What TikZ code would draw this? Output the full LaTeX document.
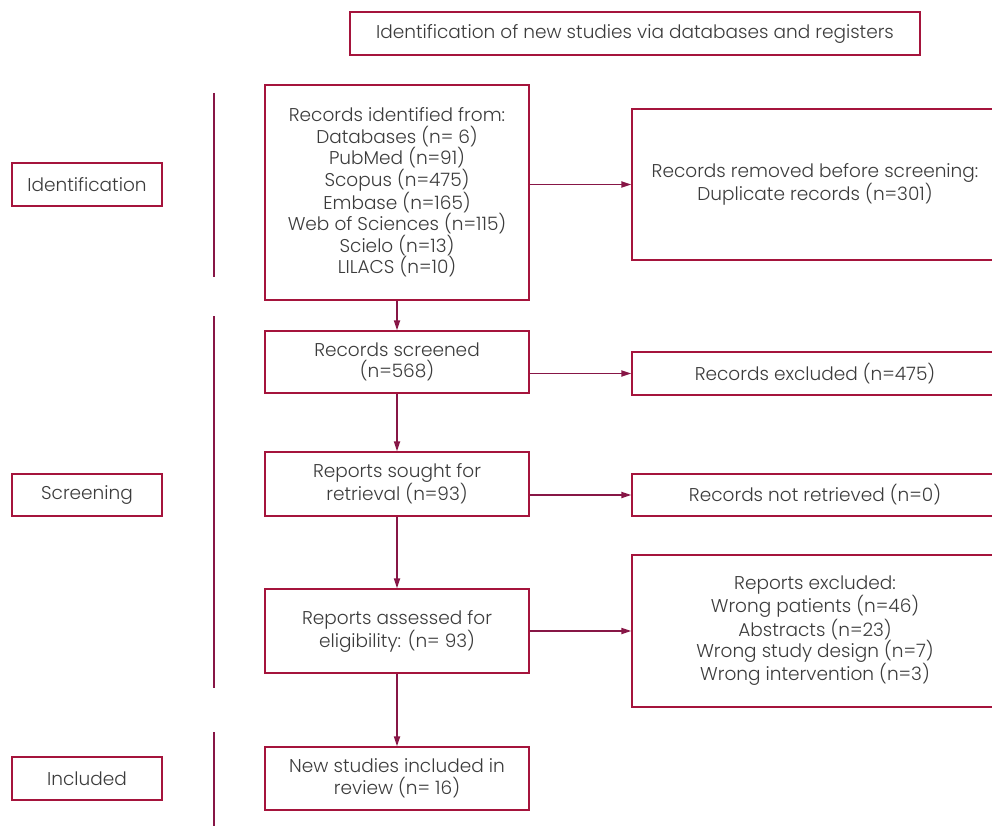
\documentclass[tikz,border=0pt]{standalone}
\usepackage{fontspec}
\setmainfont{Poppins}[UprightFont=* Light]
\usetikzlibrary{arrows.meta}
\definecolor{prred}{RGB}{165,20,60}
\definecolor{prwine}{RGB}{135,22,70}
\definecolor{prtext}{RGB}{60,60,60}
\tikzset{
  prbox/.style={draw=prred, rectangle, line width=1.2pt, fill=white, text=prtext, align=center,
    font=\fontsize{18.5}{21.5}\selectfont, inner sep=0pt},
  prstage/.style={prbox, minimum width=150pt, minimum height=43pt},
  prwire/.style={draw=prwine, line width=1.8pt, -{Triangle[length=10pt,width=6pt]}},
  prbar/.style={draw=prwine, line width=2.5pt}
}
\begin{document}
\begin{tikzpicture}[x=1pt,y=-1pt]
    \useasboundingbox (0,0) rectangle (992,826);
    \clip (0,0) rectangle (992,826);
    \node[prbox, minimum width=570pt, minimum height=43pt] (title) at (635,33.5) {Identification of new studies via databases and registers};

    \node[prstage] (ident) at (87,184.5) {Identification};
    \node[prstage, minimum height=42pt] (screen) at (87,495) {Screening};
    \node[prstage] (incl) at (87,778.5) {Included};

    \node[prbox, minimum width=264pt, minimum height=215pt] (rec) at (397,192.5) {Records identified from:\\ Databases (n= 6)\\ PubMed (n=91)\\ Scopus (n=475)\\ Embase (n=165)\\ Web of Sciences (n=115)\\ Scielo (n=13)\\ LILACS (n=10)};
    \node[prbox, minimum width=264pt, minimum height=62pt] (scr) at (397,362) {Records screened\\ (n=568)};
    \node[prbox, minimum width=264pt, minimum height=64pt] (sought) at (397,484) {Reports sought for\\ retrieval (n=93)};
    \node[prbox, minimum width=264pt, minimum height=84pt] (assess) at (397,631) {Reports assessed for\\ eligibility: (n= 93)};
    \node[prbox, minimum width=264pt, minimum height=63pt] (newst) at (397,778.5) {New studies included in\\ review (n= 16)};

    \node[prbox, minimum width=366pt, minimum height=151pt] (dup) at (815,184.5) {Records removed before screening:\\ Duplicate records (n=301)};
    \node[prbox, minimum width=366pt, minimum height=43pt] (excl) at (815,373.5) {Records excluded (n=475)};
    \node[prbox, minimum width=366pt, minimum height=42pt] (notret) at (815,495) {Records not retrieved (n=0)};
    \node[prbox, minimum width=366pt, minimum height=152pt] (repexcl) at (815,631) {Reports excluded:\\ Wrong patients (n=46)\\ Abstracts (n=23)\\ Wrong study design (n=7)\\ Wrong intervention (n=3)};

    % stage bars
    \coordinate (b1t) at (214,93);  \coordinate (b1b) at (214,277);
    \coordinate (b2t) at (214,316); \coordinate (b2b) at (214,688);
    \coordinate (b3t) at (214,732); \coordinate (b3b) at (214,830);
    \draw[prbar] (b1t) -- (b1b);
    \draw[prbar] (b2t) -- (b2b);
    \draw[prbar] (b3t) -- (b3b);

    \draw[prwire] (rec) -- (scr);
    \draw[prwire] (scr) -- (sought);
    \draw[prwire] (sought) -- (assess);
    \draw[prwire] (assess) -- (newst);

    \draw[prwire] (dup.west -| rec.east) -- (dup.west);
    \draw[prwire] (excl.west -| scr.east) -- (excl.west);
    \draw[prwire] (notret.west -| sought.east) -- (notret.west);
    \draw[prwire] (assess.east) -- (repexcl.west);
\end{tikzpicture}
\end{document}
